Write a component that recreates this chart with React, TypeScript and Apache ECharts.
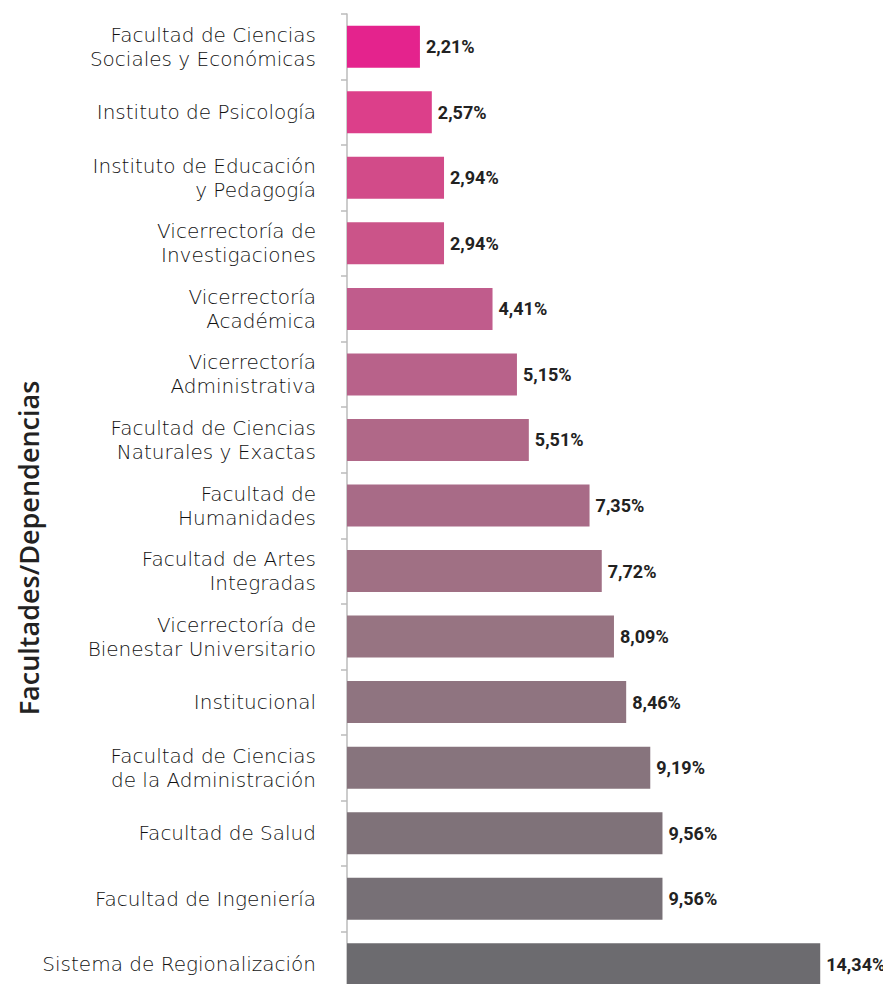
import React, { useEffect, useRef } from "react";
import * as echarts from "echarts";

const categories = [
  "Facultad de Ciencias\nSociales y Económicas",
  "Instituto de Psicología",
  "Instituto de Educación\ny Pedagogía",
  "Vicerrectoría de\nInvestigaciones",
  "Vicerrectoría\nAcadémica",
  "Vicerrectoría\nAdministrativa",
  "Facultad de Ciencias\nNaturales y Exactas",
  "Facultad de\nHumanidades",
  "Facultad de Artes\nIntegradas",
  "Vicerrectoría de\nBienestar Universitario",
  "Institucional",
  "Facultad de Ciencias\nde la Administración",
  "Facultad de Salud",
  "Facultad de Ingeniería",
  "Sistema de Regionalización",
];

const values = [2.21, 2.57, 2.94, 2.94, 4.41, 5.15, 5.51, 7.35, 7.72, 8.09, 8.46, 9.19, 9.56, 9.56, 14.34];

const barColors = [
  "#E4238D", "#DC3F8A", "#D24B89", "#CB5489", "#C05C8C",
  "#B8628A", "#B06888", "#A86B87", "#A07084", "#977482",
  "#8F7480", "#87747D", "#7F7279", "#777076", "#6C6B6F",
];

const axisTitle = "Facultades/Dependencias";

export default function App() {
  const ref = useRef<HTMLDivElement>(null);
  useEffect(() => {
    if (!ref.current) return;
    const chart = echarts.init(ref.current, undefined, { renderer: "svg" });
    chart.setOption({
      animation: false,
      grid: { left: 347, right: 16, top: 14, bottom: -5, containLabel: false, outerBoundsMode: "none" },
      xAxis: {
        type: "value",
        min: 0,
        max: 16,
        show: false,
      },
      yAxis: {
        type: "category",
        inverse: true,
        data: categories,
        axisLine: { show: true, lineStyle: { color: "#BBBBBB", width: 1.5 } },
        axisTick: { show: true, length: 6, alignWithLabel: false, lineStyle: { color: "#BBBBBB", width: 1.5 } },
        axisLabel: {
          margin: 31,
          fontFamily: "DejaVu Sans",
          fontWeight: 200,
          fontSize: 20,
          lineHeight: 24,
          color: "#111111",
          align: "right",
        },
        splitLine: { show: false },
      },
      graphic: [
        {
          type: "text",
          x: 28,
          y: 548,
          rotation: Math.PI / 2,
          style: {
            text: axisTitle,
            fontFamily: "Open Sans",
            fontWeight: 600,
            fontSize: 27,
            fill: "#222",
            textAlign: "center",
            textVerticalAlign: "middle",
          },
        },
      ],
      series: [
        {
          type: "bar",
          barWidth: 42,
          data: values.map((v, i) => ({ value: v, itemStyle: { color: barColors[i] } })),
          label: {
            show: true,
            position: "right",
            distance: 6,
            formatter: (p: any) => p.value.toFixed(2).replace(".", ",") + "%",
            fontFamily: "Roboto",
            fontWeight: "bold",
            fontSize: 18,
            color: "#222",
          },
        },
      ],
    });
    return () => chart.dispose();
  }, []);
  return <div ref={ref} style={{ width: 891, height: 992, margin: -8 }} />;
}
